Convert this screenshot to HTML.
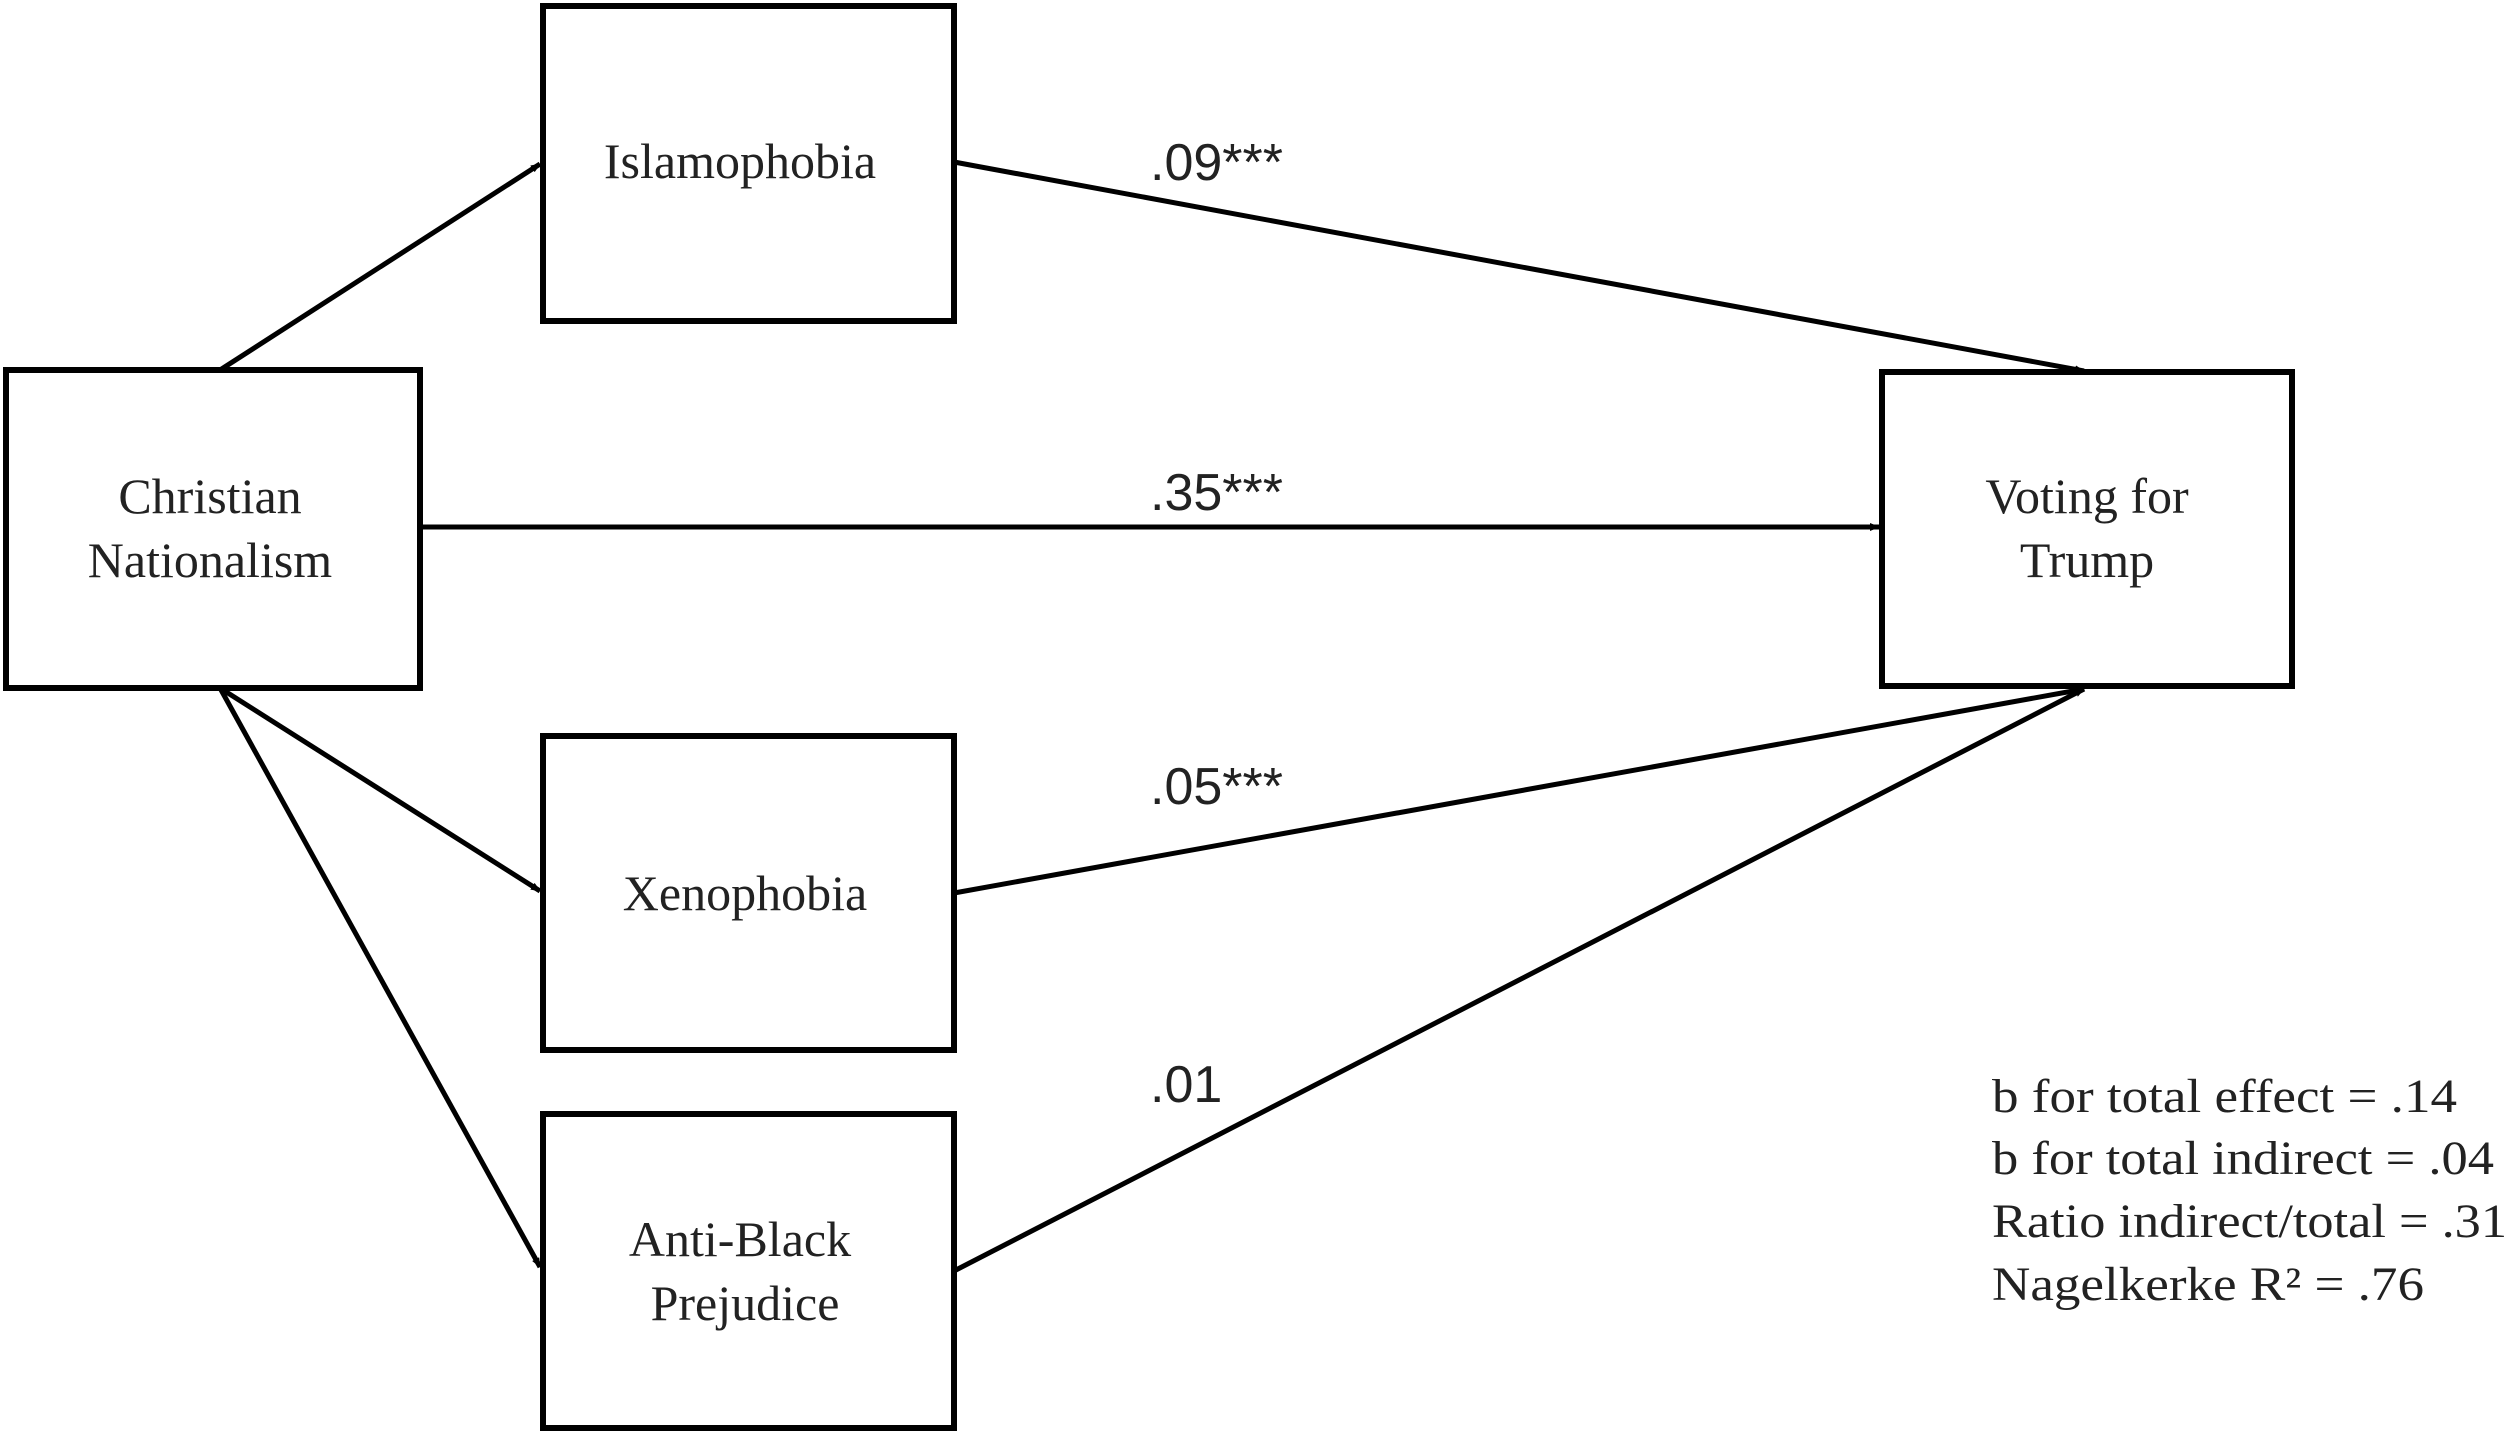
<!DOCTYPE html>
<html><head><meta charset="utf-8"><style>html,body{margin:0;padding:0;background:#fff}svg{display:block}</style></head>
<body>
<svg width="2513" height="1438" viewBox="0 0 2513 1438" xmlns="http://www.w3.org/2000/svg">
<defs>
<marker id="a" markerWidth="10" markerHeight="8" refX="9" refY="4" orient="auto" markerUnits="userSpaceOnUse">
<path d="M0,0 L10,4 L0,8 z" fill="#000"/>
</marker>
</defs>
<g fill="none" stroke="#000" stroke-width="6">
<rect x="6" y="370" width="414" height="318"/>
<rect x="543" y="6" width="411" height="315"/>
<rect x="1882" y="372" width="410" height="314"/>
<rect x="543" y="736" width="411" height="314"/>
<rect x="543" y="1114" width="411" height="314"/>
</g>
<g stroke="#000" stroke-width="5" fill="none" marker-end="url(#a)">
<line x1="220" y1="370" x2="540" y2="164"/>
<line x1="954" y1="162" x2="2084" y2="371"/>
<line x1="420" y1="527" x2="1879" y2="527"/>
<line x1="220" y1="688" x2="540" y2="891"/>
<line x1="220" y1="688" x2="540" y2="1267"/>
<line x1="954" y1="893" x2="2084" y2="689"/>
<line x1="954" y1="1271" x2="2084" y2="689"/>
</g>
<g font-family="Liberation Serif, serif" font-size="50" fill="#222" text-anchor="middle">
<text x="740" y="178">Islamophobia</text>
<text x="210" y="513">Christian</text>
<text x="210" y="577">Nationalism</text>
<text x="2087" y="513">Voting  for</text>
<text x="2087" y="577">Trump</text>
<text x="745" y="910">Xenophobia</text>
<text x="740" y="1256">Anti-Black</text>
<text x="745" y="1320">Prejudice</text>
</g>
<g font-family="Liberation Sans, sans-serif" font-size="52" fill="#222">
<text x="1150" y="180">.09***</text>
<text x="1150" y="510">.35***</text>
<text x="1150" y="804">.05***</text>
<text x="1150" y="1102">.01</text>
</g>
<g font-family="Liberation Serif, serif" font-size="48" fill="#222">
<text x="1992" y="1112" textLength="465" lengthAdjust="spacingAndGlyphs">b for total effect = .14</text>
<text x="1992" y="1174" textLength="502" lengthAdjust="spacingAndGlyphs">b for total indirect = .04</text>
<text x="1992" y="1237" textLength="515" lengthAdjust="spacingAndGlyphs">Ratio indirect/total = .31</text>
<text x="1992" y="1300" textLength="432" lengthAdjust="spacingAndGlyphs">Nagelkerke R² = .76</text>
</g>
</svg>
</body></html>
